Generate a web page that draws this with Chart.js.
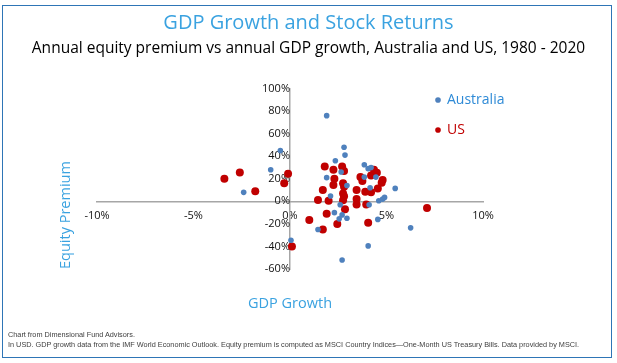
<!DOCTYPE html>
<html><head><meta charset="utf-8">
<script src="https://cdn.jsdelivr.net/npm/chart.js@4"></script>
<style>
html,body{margin:0;padding:0;background:#fff;}
#wrap{position:relative;width:617px;height:363px;overflow:hidden;}
#frame{position:absolute;left:2px;top:5px;width:610px;height:353px;border:1.5px solid #2E75B6;box-sizing:border-box;pointer-events:none;}
canvas{position:absolute;left:0;top:0;}
#foot{position:absolute;left:8px;top:330px;font:7.3px "Liberation Sans",Arial,sans-serif;color:#404040;line-height:10px;white-space:nowrap;}
</style></head>
<body>
<div id="wrap">
<canvas id="c" width="617" height="363"></canvas>
<div id="frame"></div>
<div id="foot">Chart from Dimensional Fund Advisors.<br>In USD. GDP growth data from the IMF World Economic Outlook. Equity premium is computed as MSCI Country Indices—One-Month US Treasury Bills. Data provided by MSCI.</div>
</div>
<script>
// ---- data (GDP growth %, equity premium %) ----
const ausGdp = [1.9, -0.5, -1.0, -2.4, 2.8, 2.85, 2.35, 2.65, 1.9, 3.85, 4.05, 4.2, 3.85, 4.45, 2.95, 2.1, 2.6, 2.3, 2.7, 2.95, 2.55, 1.45, 4.15, 5.45, 4.6, 4.8, 4.9, 4.55, 6.25, 4.05, 2.7, 0.05, 4.1];
const ausEq  = [76, 45, 28, 8, 48, 41, 36, 26, 21, 32.5, 29, 30, 21.5, 21.5, 14, 4.7, -3, -10, -12, -15, -15.5, -25, 12, 11.5, 0.5, 2, 3.5, -16, -23.5, -39.5, -52, -34.5, -3];
const usGdp  = [-3.4, -2.6, -1.8, -0.1, -0.3, 0.1, 1.8, 2.25, 2.7, 2.8, 2.3, 2.25, 2.75, 1.7, 2.75, 2.8, 2.75, 1.45, 2.0, 2.85, 1.9, 1.0, 2.45, 1.7, 4.35, 4.5, 4.2, 3.65, 3.75, 4.8, 4.75, 4.55, 3.45, 3.9, 4.2, 3.45, 3.45, 3.95, 4.05, 7.1, 2.8];
const usEq   = [20, 25.5, 9, 24.5, 16, -40, 31, 28, 31, 27, 20, 14.5, 16, 10, 7, 4.5, 1, 1.2, 0.6, -7, -11, -16.5, -20, -25, 28, 25.4, 23, 21.5, 18, 19, 16.5, 11.5, 10, 8.5, 8, 2, -2.7, -2.7, -19, -6, 13];
const seriesNames = ['Australia', 'US'];
const xTickVals = [-10, -5, 0, 5, 10];
const yTickVals = [-60, -40, -20, 0, 20, 40, 60, 80, 100];

const toPts = (xs, ys) => xs.map((x, i) => ({x: x, y: ys[i]}));
const titleBlue = '#3AA2E0';
const legendColors = ['#2E8AD6', '#C00000'];
const tickFont = {family: 'Open Sans', size: 11};

const moveLegend = {
  id: 'moveLegend',
  afterLayout(chart) {
    const lg = chart.legend; if (!lg) return;
    const w = lg.width, h = lg.height;
    lg.left = 420; lg.top = 77; lg.right = 420 + w; lg.bottom = 77 + h;
  }
};

new Chart(document.getElementById('c'), {
  type: 'scatter',
  data: {
    datasets: [
      {label: seriesNames[0], data: toPts(ausGdp, ausEq), backgroundColor: '#4F81BD', borderColor: '#4F81BD', borderWidth: 0, pointRadius: 2.8, pointStyle: 'circle'},
      {label: seriesNames[1], data: toPts(usGdp, usEq), backgroundColor: '#C00000', borderColor: '#C00000', borderWidth: 0, pointRadius: 4, pointStyle: 'circle'}
    ]
  },
  plugins: [moveLegend],
  options: {
    responsive: false, animation: false, devicePixelRatio: 1,
    layout: {padding: 0},
    plugins: {
      title: {display: true, text: 'GDP Growth and Stock Returns', color: titleBlue, font: {family: 'Open Sans', size: 20, weight: 'normal'}, padding: {top: 11, bottom: 0}},
      subtitle: {display: true, text: 'Annual equity premium vs annual GDP growth, Australia and US, 1980 - 2020', color: '#000', font: {family: 'Open Sans', size: 15.5}, padding: {top: 4.2, bottom: 30.8}},
      legend: {
        position: 'chartArea', align: 'start',
        labels: {
          usePointStyle: true, boxWidth: 4, boxHeight: 4, padding: 16,
          font: {family: 'Open Sans', size: 14},
          generateLabels(chart) {
            const items = Chart.defaults.plugins.legend.labels.generateLabels(chart);
            items.forEach((it, i) => { it.fontColor = legendColors[i]; });
            return items;
          }
        }
      },
      tooltip: {enabled: false}
    },
    scales: {
      x: {
        type: 'linear', position: {y: 0}, min: -10, max: 10,
        grid: {display: false, drawTicks: false},
        border: {display: true, color: '#A6A6A6', width: 1.5},
        ticks: {padding: 8, color: '#111', font: tickFont, callback: v => v + '%'},
        afterBuildTicks: s => { s.ticks = xTickVals.map(v => ({value: v})); },
        afterFit: s => { s.height = 0; }
      },
      y: {
        type: 'linear', position: {x: 0}, min: -60, max: 100,
        grid: {display: false, drawTicks: false},
        border: {display: true, color: '#A6A6A6', width: 1.5},
        ticks: {padding: 10, color: '#111', font: tickFont, callback: v => v + '%'},
        afterBuildTicks: s => { s.ticks = yTickVals.map(v => ({value: v})); },
        afterFit: s => { s.width = 0; }
      },
      xt: {
        type: 'linear', axis: 'x', position: 'bottom', min: 0, max: 1,
        grid: {display: false, drawTicks: false}, border: {display: false}, ticks: {display: false},
        title: {display: true, text: 'GDP Growth', color: titleBlue, font: {family: 'Open Sans', size: 14.5}, padding: {top: 0, bottom: 50.3}},
        afterFit: s => { s.height = 94; }
      },
      yt: {
        type: 'linear', axis: 'y', position: 'left', min: 0, max: 1,
        grid: {display: false, drawTicks: false}, border: {display: false}, ticks: {display: false},
        title: {display: true, text: 'Equity Premium', align: 'start', color: titleBlue, font: {family: 'Open Sans', size: 14.5}, padding: {top: 57.3, bottom: 0}},
        afterFit: s => { s.width = 97; }
      },
      yr: {
        type: 'linear', axis: 'y', position: 'right', min: 0, max: 1,
        grid: {display: false, drawTicks: false}, border: {display: false}, ticks: {display: false},
        afterFit: s => { s.width = 134; }
      }
    }
  }
});
</script>
</body></html>
